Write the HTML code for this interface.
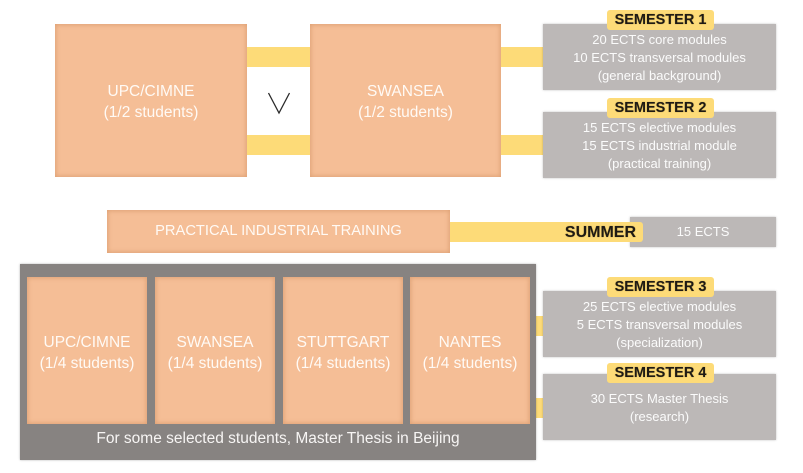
<!DOCTYPE html>
<html><head><meta charset="utf-8"><style>
html,body{margin:0;padding:0;background:#fff;}
body{width:803px;height:473px;position:relative;overflow:hidden;font-family:"Liberation Sans",sans-serif;}
.a{position:absolute;box-sizing:border-box;}
.or{background:#f5be96;box-shadow:inset 0 0 4px 1px rgba(190,120,70,0.4);color:#fffaf5;display:flex;align-items:center;justify-content:center;text-align:center;font-size:15.5px;line-height:21px;}
.y{background:#fddb78;}
.g{background:#bcb8b7;box-shadow:0 0 2px rgba(0,0,0,0.25);color:#fbfbfb;text-align:center;font-size:13px;line-height:18px;}
.lab{background:#fddb78;border-radius:3px;font-weight:bold;font-size:14.5px;color:#1e1a14;text-align:center;line-height:20px;text-shadow:0 0 1px rgba(80,60,0,0.5);}
</style></head><body>
<!-- top connectors -->
<div class="a y" style="left:246px;top:47px;width:66px;height:20px"></div>
<div class="a y" style="left:246px;top:135px;width:66px;height:20px"></div>
<div class="a y" style="left:500px;top:47px;width:45px;height:20px"></div>
<div class="a y" style="left:500px;top:135px;width:45px;height:20px"></div>
<!-- top boxes -->
<div class="a or" style="left:55px;top:24px;width:192px;height:153px;padding-top:3px">UPC/CIMNE<br>(1/2 students)</div>
<div class="a or" style="left:310px;top:24px;width:191px;height:153px;padding-top:3px">SWANSEA<br>(1/2 students)</div>
<svg class="a" style="left:0;top:0" width="803" height="473"><polyline points="268.5,93 279,113 289.5,93" fill="none" stroke="#2a2a2a" stroke-width="1.3"/></svg>
<!-- semester 1/2 -->
<div class="a g" style="left:543px;top:24px;width:233px;height:66px;padding-top:7px">20 ECTS core modules<br>10 ECTS transversal modules<br>(general background)</div>
<div class="a lab" style="left:607px;top:10px;width:107px;height:20px">SEMESTER 1</div>
<div class="a g" style="left:543px;top:112px;width:233px;height:66px;padding-top:7px">15 ECTS elective modules<br>15 ECTS industrial module<br>(practical training)</div>
<div class="a lab" style="left:607px;top:98px;width:107px;height:20px">SEMESTER 2</div>
<!-- summer -->
<div class="a g" style="left:630px;top:217px;width:146px;height:30px;line-height:30px;padding-left:0">15 ECTS</div>
<div class="a y" style="left:440px;top:222px;width:203px;height:20px;border-radius:0 3px 3px 0;font-weight:bold;font-size:16px;line-height:22px;color:#1e1a14;text-align:right;padding-right:7px;text-shadow:0 0 1px rgba(80,60,0,0.5)">SUMMER</div>
<div class="a or" style="left:107px;top:210px;width:343px;height:43px;font-size:14.7px">PRACTICAL INDUSTRIAL TRAINING</div>
<!-- container -->
<div class="a y" style="left:530px;top:316px;width:15px;height:20px"></div>
<div class="a y" style="left:530px;top:398px;width:15px;height:20px"></div>
<div class="a" style="left:20px;top:264px;width:516px;height:196px;background:#878381;box-shadow:0 0 2px rgba(0,0,0,0.3)"></div>
<div class="a or" style="left:27px;top:277px;width:120px;height:147px;padding-top:4px">UPC/CIMNE<br>(1/4 students)</div>
<div class="a or" style="left:155px;top:277px;width:120px;height:147px;padding-top:4px">SWANSEA<br>(1/4 students)</div>
<div class="a or" style="left:283px;top:277px;width:120px;height:147px;padding-top:4px">STUTTGART<br>(1/4 students)</div>
<div class="a or" style="left:410px;top:277px;width:120px;height:147px;padding-top:4px">NANTES<br>(1/4 students)</div>
<div class="a" style="left:20px;top:429px;width:516px;height:20px;text-align:center;color:#f7f5f4;font-size:15.5px;line-height:20px">For some selected students, Master Thesis in Beijing</div>
<!-- semester 3/4 -->
<div class="a g" style="left:543px;top:291px;width:233px;height:66px;padding-top:7px">25 ECTS elective modules<br>5 ECTS transversal modules<br>(specialization)</div>
<div class="a lab" style="left:607px;top:277px;width:107px;height:20px">SEMESTER 3</div>
<div class="a g" style="left:543px;top:374px;width:233px;height:66px;padding-top:16px">30 ECTS Master Thesis<br>(research)</div>
<div class="a lab" style="left:607px;top:363px;width:107px;height:20px">SEMESTER 4</div>
</body></html>
